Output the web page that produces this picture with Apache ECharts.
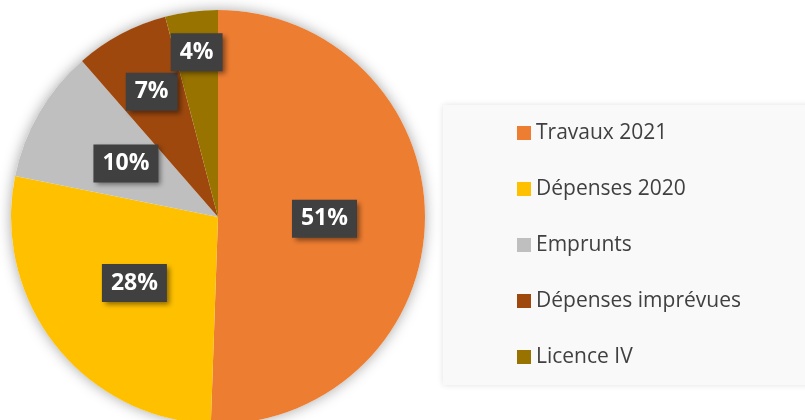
<!DOCTYPE html>
<html>
<head>
<meta charset="utf-8">
<script src="https://cdn.jsdelivr.net/npm/echarts@6/dist/echarts.min.js"></script>
<style>
  html, body { margin: 0; padding: 0; background: #fff; }
  #chart { width: 805px; height: 420px; }
</style>
</head>
<body>
<div id="chart"></div>
<script>
const categories = ['Travaux 2021', 'Dépenses 2020', 'Emprunts', 'Dépenses imprévues', 'Licence IV'];
const values = [50.5, 27.6, 10.4, 7.3, 4.1];
const colors = ['#ED7D31', '#FFC000', '#BFBFBF', '#9E480E', '#997300'];

// how far out along its radius each label sits (1 = middle of the slice)
const labelPush = [1, 1, 1, 1.33, 1.56];

const cx = 218, cy = 217, r = 207;

const chart = echarts.init(document.getElementById('chart'));

chart.setOption({
  backgroundColor: '#ffffff',
  animation: false,
  graphic: [{
    type: 'circle',
    shape: { cx: cx, cy: cy, r: r },
    style: { fill: '#ffffff', shadowBlur: 14, shadowColor: 'rgba(0,0,0,0.35)' },
    z: -1
  }],
  legend: {
    orient: 'vertical',
    left: 443,
    top: 105,
    data: categories,
    icon: 'rect',
    itemWidth: 14,
    itemHeight: 14,
    itemGap: 32,
    padding: [16, 80, 16, 74],
    backgroundColor: '#f9f9f9',
    shadowBlur: 6,
    shadowColor: 'rgba(0,0,0,0.12)',
    textStyle: {
      fontFamily: 'Open Sans',
      fontSize: 21,
      color: '#404040',
      lineHeight: 24
    }
  },
  series: [{
    type: 'pie',
    center: [cx, cy],
    radius: r,
    startAngle: 90,
    clockwise: true,
    silent: true,
    data: categories.map((name, i) => ({
      name: name,
      value: values[i],
      itemStyle: { color: colors[i] }
    })),
    label: {
      show: true,
      position: 'inside',
      formatter: p => Math.round(p.percent) + '%',
      fontFamily: 'Open Sans',
      fontWeight: 'bold',
      fontSize: 23,
      lineHeight: 26,
      color: '#ffffff',
      backgroundColor: '#404040',
      padding: [6, 9],
      shadowColor: 'rgba(0,0,0,0.45)',
      shadowBlur: 5,
      shadowOffsetX: 3,
      shadowOffsetY: 3
    },
    labelLine: { show: false },
    labelLayout: function (p) {
      const f = labelPush[p.dataIndex];
      const lx = p.labelRect.x + p.labelRect.width / 2;
      const ly = p.labelRect.y + p.labelRect.height / 2;
      return {
        x: cx + (lx - cx) * f,
        y: cy + (ly - cy) * f,
        align: 'center',
        verticalAlign: 'middle'
      };
    }
  }]
});
</script>
</body>
</html>
